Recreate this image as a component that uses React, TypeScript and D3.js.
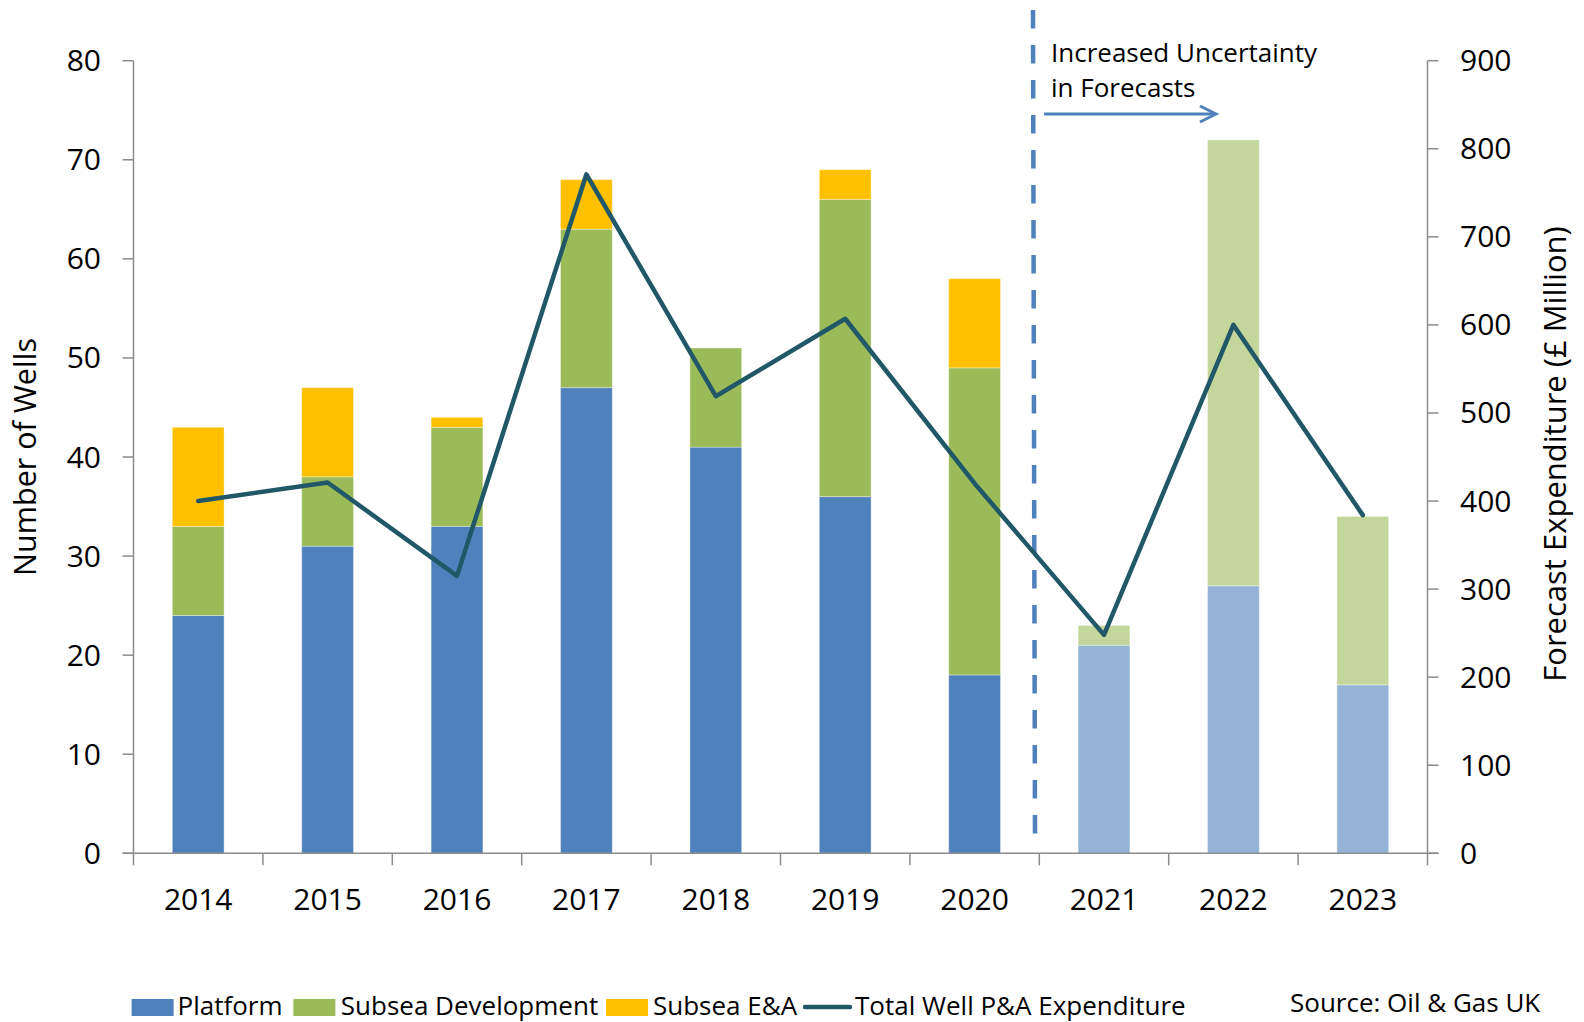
import React from "react";
import * as d3 from "d3";

const years = ["2014", "2015", "2016", "2017", "2018", "2019", "2020", "2021", "2022", "2023"];
const forecastYears = ["2021", "2022", "2023"];
const platform = [24, 31, 33, 47, 41, 36, 18, 21, 27, 17];
const subseaDev = [9, 7, 10, 16, 10, 30, 31, 2, 45, 17];
const subseaEA = [10, 9, 1, 5, 0, 3, 9, 0, 0, 0];
const expenditure = [400, 421, 315, 771, 519, 607, 420, 248, 600, 384];
const leftTicks = [0, 10, 20, 30, 40, 50, 60, 70, 80];
const rightTicks = [0, 100, 200, 300, 400, 500, 600, 700, 800, 900];
const seriesKeys = ["platform", "subseaDev", "subseaEA"];
const seriesLabels = ["Platform", "Subsea Development", "Subsea E&A"];
const lineLabel = "Total Well P&A Expenditure";
const solidColors = ["#4F81BD", "#9BBB59", "#FFC000"];
const lightColors = ["#95B3D7", "#C3D69B", "#FFD966"];

const FONT = "'Open Sans', 'Noto Sans', sans-serif";

export default function App() {
  const W = 1584;
  const H = 1022;
  const x0 = 133.5;
  const x1 = 1427.5;
  const yTop = 60.7;
  const yBot = 853.3;

  const x = d3.scaleBand<string>().domain(years).range([x0, x1]).paddingInner(0.6).paddingOuter(0.3);
  const step = x.step();
  const yL = d3.scaleLinear().domain([0, 80]).range([yBot, yTop]);
  const yR = d3.scaleLinear().domain([0, 900]).range([yBot, yTop]);

  const rows = years.map((yr, i) => ({
    year: yr,
    platform: platform[i],
    subseaDev: subseaDev[i],
    subseaEA: subseaEA[i],
  }));
  const stacked = d3.stack<any>().keys(seriesKeys)(rows);

  const line = d3
    .line<number>()
    .x((_, i) => (x(years[i]) as number) + x.bandwidth() / 2)
    .y((d) => yR(d));

  const boundaries = d3.range(years.length + 1).map((i) => x0 + i * step);
  const axisColor = "#8C8C8C";

  const legendY = 999;
  const legendItems = [
    { sx: 131.6, tx: 177.5 },
    { sx: 293.4, tx: 340.8 },
    { sx: 606, tx: 653 },
  ];

  return (
    <svg
      width={W}
      height={H}
      style={{ position: "absolute", left: 0, top: 0, background: "#fff" }}
      fontFamily={FONT}
    >
      <rect x={0} y={0} width={W} height={H} fill="#fff" />

      {stacked.map((s, si) =>
        s.map((d, i) => {
          const yr = years[i];
          const isF = forecastYears.includes(yr);
          const h = yL(d[0]) - yL(d[1]);
          if (h <= 0) return null;
          return (
            <rect
              key={`${si}-${i}`}
              x={x(yr)}
              y={yL(d[1])}
              width={x.bandwidth()}
              height={h}
              fill={isF ? lightColors[si] : solidColors[si]}
              stroke="#ffffff"
              strokeOpacity={0.35}
              strokeWidth={1}
            />
          );
        })
      )}

      <line x1={x0} x2={x0} y1={yTop} y2={yBot} stroke={axisColor} strokeWidth={1.5} />
      {leftTicks.map((t) => (
        <g key={`l${t}`}>
          <line x1={x0 - 11} x2={x0} y1={yL(t)} y2={yL(t)} stroke={axisColor} strokeWidth={1.5} />
          <text x={101} y={yL(t)} dy="0.35em" textAnchor="end" fontSize={30} fill="#000">
            {t}
          </text>
        </g>
      ))}

      <line x1={x1} x2={x1} y1={yTop} y2={yBot} stroke={axisColor} strokeWidth={1.5} />
      {rightTicks.map((t) => (
        <g key={`r${t}`}>
          <line x1={x1} x2={x1 + 11} y1={yR(t)} y2={yR(t)} stroke={axisColor} strokeWidth={1.5} />
          <text x={1460} y={yR(t)} dy="0.35em" textAnchor="start" fontSize={30} fill="#000">
            {t}
          </text>
        </g>
      ))}

      <line x1={x0 - 11} x2={x1 + 11} y1={yBot} y2={yBot} stroke={axisColor} strokeWidth={1.5} />
      {boundaries.map((b, i) => (
        <line key={`b${i}`} x1={b} x2={b} y1={yBot} y2={yBot + 12} stroke={axisColor} strokeWidth={1.5} />
      ))}
      {years.map((yr) => (
        <text
          key={`y${yr}`}
          x={(x(yr) as number) + x.bandwidth() / 2}
          y={910}
          textAnchor="middle"
          fontSize={30}
          fill="#000"
        >
          {yr}
        </text>
      ))}

      <text transform={`translate(36,457) rotate(-90)`} textAnchor="middle" fontSize={30.5} fill="#000">
        Number of Wells
      </text>
      <text transform={`translate(1566,454) rotate(-90)`} textAnchor="middle" fontSize={31} fill="#000">
        Forecast Expenditure (£ Million)
      </text>

      <line
        x1={1033}
        x2={1035}
        y1={10}
        y2={838}
        stroke="#4F81BD"
        strokeWidth={4.5}
        strokeDasharray="18.5 16.5"
      />

      <text x={1051} y={61.5} fontSize={26} fill="#000">
        Increased Uncertainty
      </text>
      <text x={1051} y={96.5} fontSize={26} fill="#000">
        in Forecasts
      </text>
      <line x1={1044} x2={1215} y1={114} y2={114} stroke="#4F81BD" strokeWidth={3} />
      <path d="M1200,106 L1216,114 L1200,122" fill="none" stroke="#4F81BD" strokeWidth={3} />

      <path
        d={line(expenditure) || ""}
        fill="none"
        stroke="#215868"
        strokeWidth={4.5}
        strokeLinejoin="round"
        strokeLinecap="round"
      />

      {seriesLabels.map((lab, i) => (
        <g key={`lg${i}`}>
          <rect x={legendItems[i].sx} y={legendY} width={42} height={17} fill={solidColors[i]} />
          <text x={legendItems[i].tx} y={1015} fontSize={26} fill="#000">
            {lab}
          </text>
        </g>
      ))}
      <line x1={805} x2={850} y1={1007} y2={1007} stroke="#215868" strokeWidth={4.5} strokeLinecap="round" />
      <text x={855} y={1015} fontSize={26} fill="#000">
        {lineLabel}
      </text>

      <text x={1290} y={1012} fontSize={26} fill="#000">
        Source: Oil &amp; Gas UK
      </text>
    </svg>
  );
}
